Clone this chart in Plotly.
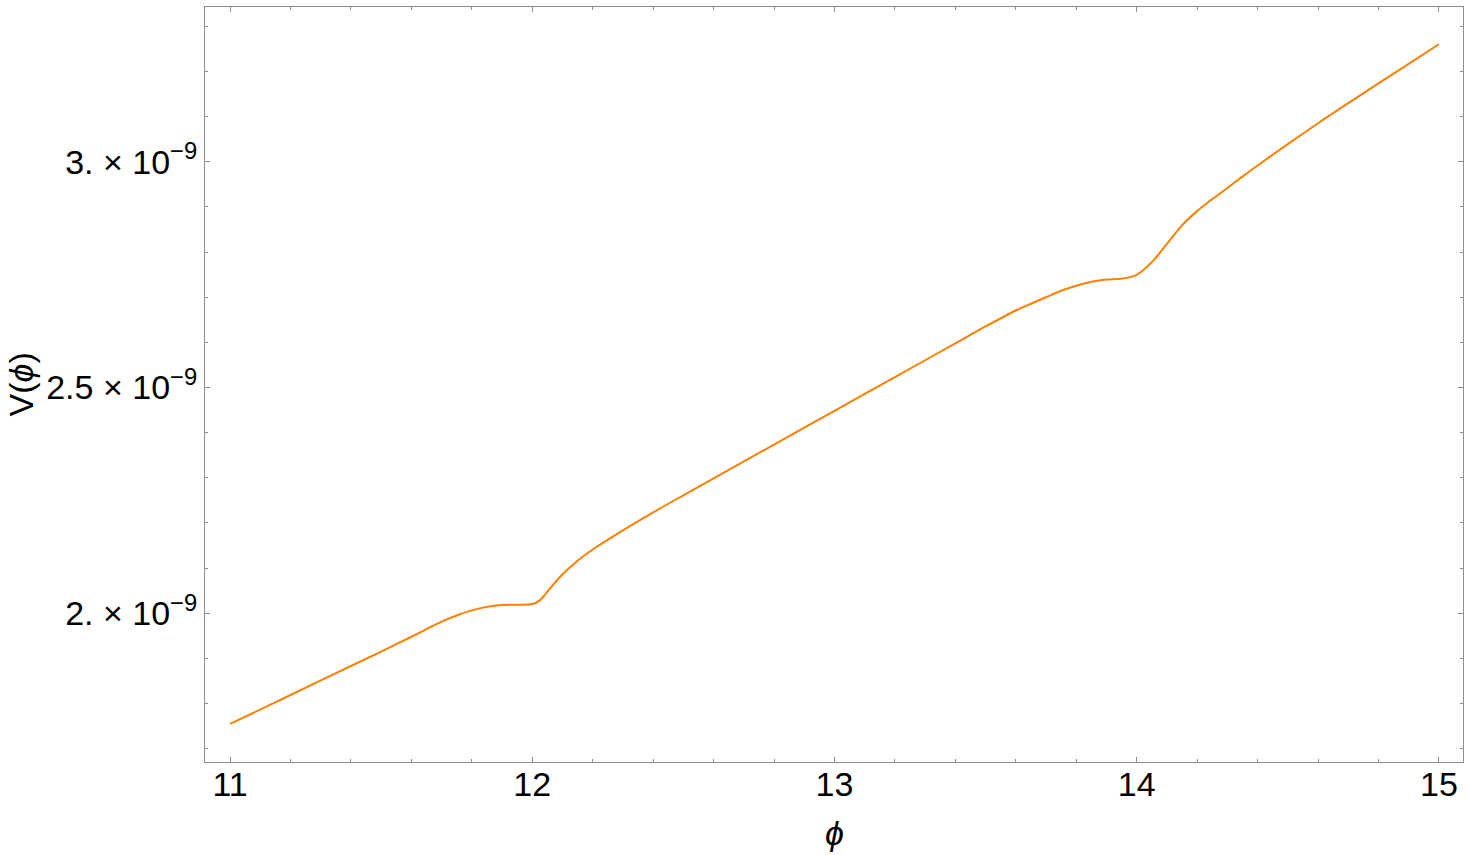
import plotly.graph_objects as go

# potential samples
phi = [11.0, 11.2, 11.4, 11.5, 11.6, 11.7, 11.75, 11.8, 11.85, 11.9, 11.95,
       12.0, 12.025, 12.05, 12.1, 12.15, 12.2, 12.3, 12.4, 12.5, 12.6, 12.8,
       13.0, 13.2, 13.4, 13.5, 13.6, 13.65, 13.7, 13.75, 13.8, 13.85, 13.9,
       13.95, 14.0, 14.05, 14.1, 14.15, 14.2, 14.25, 14.3, 14.35, 14.4,
       14.5, 14.6, 14.7, 14.8, 14.9, 15.0]
V_scaled = [1.7549, 1.8191, 1.8833, 1.9150, 1.9480, 1.9815, 1.9951, 2.0064, 2.0142, 2.0182, 2.0190,
            2.0205, 2.0285, 2.0480, 2.0864, 2.1165, 2.1413, 2.1836, 2.2234, 2.2613, 2.2988, 2.3735,
            2.4483, 2.5230, 2.5977, 2.6351, 2.6705, 2.6855, 2.6997, 2.7141, 2.7254, 2.7340, 2.7392,
            2.7410, 2.7495, 2.7775, 2.8178, 2.8590, 2.8905, 2.9170, 2.9418, 2.9670, 2.9915,
            3.0388, 3.0850, 3.1295, 3.1732, 3.2166, 3.2600]
V = [v * 1e-9 for v in V_scaled]

x_ticks = [11, 12, 13, 14, 15]
y_ticks = [2e-9, 2.5e-9, 3e-9]
y_ticktext = ['2. × 10<sup>−9</sup>', '2.5 × 10<sup>−9</sup>', '3. × 10<sup>−9</sup>']

FRAME = '#8c8c8c'
FONT = 'Liberation Sans, Arial, sans-serif'

fig = go.Figure()
fig.add_trace(go.Scatter(
    x=phi, y=V, mode='lines',
    line=dict(color='#ff8000', width=2, shape='spline', smoothing=0.9),
    showlegend=False,
))

fig.update_layout(
    width=1468, height=855,
    margin=dict(l=205, r=5, t=7, b=93),
    plot_bgcolor='white',
    paper_bgcolor='white',
    font=dict(family=FONT, size=34, color='black'),
    xaxis=dict(
        range=[10.917, 15.0798],
        tickvals=x_ticks,
        ticks='inside', ticklen=5, tickwidth=1, tickcolor=FRAME,
        ticklabelstandoff=-8,
        minor=dict(tickmode='linear', tick0=11, dtick=0.2, ticks='inside',
                   ticklen=3, tickcolor=FRAME),
        showline=True, linecolor=FRAME, linewidth=1, mirror='ticks',
        showgrid=False, zeroline=False,
    ),
    yaxis=dict(
        range=[1.6707e-9, 3.3425e-9],
        tickvals=y_ticks, ticktext=y_ticktext,
        ticks='inside', ticklen=5, tickwidth=1, tickcolor=FRAME,
        minor=dict(tickmode='linear', tick0=0, dtick=1e-10, ticks='inside',
                   ticklen=3, tickcolor=FRAME),
        showline=True, linecolor=FRAME, linewidth=1, mirror='ticks',
        showgrid=False, zeroline=False,
    ),
)

# axis labels placed like the original frame labels
fig.add_annotation(
    text='<i>ϕ</i>', xref='x', yref='paper', x=13.0, y=-0.094,
    xanchor='center', yanchor='middle', showarrow=False,
    font=dict(family=FONT, size=34, color='black'),
)
fig.add_annotation(
    text='V(<i>ϕ</i>)', xref='paper', yref='paper', x=0, y=0.5,
    xshift=-185, textangle=-90,
    xanchor='center', yanchor='middle', showarrow=False,
    font=dict(family=FONT, size=34, color='black'),
)

fig.write_html("out.html", config={'displayModeBar': False},
               post_script="document.body.style.margin='0';")
